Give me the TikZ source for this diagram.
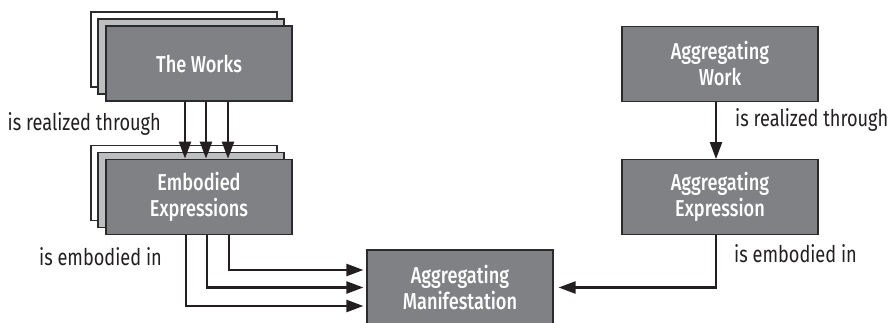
\documentclass[tikz,border=0pt]{standalone}
\usepackage{fontspec}
\setmainfont[FakeStretch=0.79,BoldFont={Fira Sans Medium}]{Fira Sans}
\usetikzlibrary{arrows.meta,positioning,calc,backgrounds}
\definecolor{BoxGray}{HTML}{808184}
\definecolor{BackGray}{HTML}{BCBEC0}
\definecolor{EdgeGray}{HTML}{2B2B2B}
\definecolor{InkBlack}{HTML}{231F20}

\begin{document}
\begin{tikzpicture}[x=1pt,y=-1pt,
  entity/.style={rectangle,draw=EdgeGray,line width=1.2pt,fill=BoxGray,text=white,
                 minimum width=186pt,minimum height=75pt,align=center,
                 font=\fontsize{23}{26}\selectfont\bfseries},
  stackcopy/.style={rectangle,draw=EdgeGray,line width=1.2pt,
                    minimum width=186pt,minimum height=75pt},
  rel/.style={font=\fontsize{23}{26}\selectfont,text=InkBlack,inner sep=0pt},
  arrow/.style={-{Triangle[length=17pt,width=12pt]},line width=2.4pt,draw=InkBlack,shorten >=3pt}
]
\useasboundingbox (0,0) rectangle (895,323);

\node[entity] (works) at (199,63.5) {The Works};
\node[entity,below=57pt of works] (embodied) {Embodied\\Expressions};
\node[entity] (manif) at (460,287.5) {Aggregating\\Manifestation};
\node[entity,minimum width=196pt] (aggwork) at (720,64) {Aggregating\\Work};
\node[entity,minimum width=196pt,below=57pt of aggwork] (aggexpr) {Aggregating\\Expression};

% stacked copies behind the group boxes
\begin{scope}[on background layer]
\node[stackcopy,fill=white]    (works3)    at ($(works)+(-15,-14)$)    {};
\node[stackcopy,fill=BackGray] (works2)    at ($(works)+(-8,-7)$)      {};
\node[stackcopy,fill=white]    (embodied3) at ($(embodied)+(-15,-14)$) {};
\node[stackcopy,fill=BackGray] (embodied2) at ($(embodied)+(-8,-7)$)   {};
\end{scope}

\node[rel,anchor=base east] (realL) at (161,131) {is realized through};
\node[rel,anchor=base east] (embL)  at (162,266) {is embodied in};
\node[rel,anchor=base west] (realR) at (735,127) {is realized through};
\node[rel,anchor=base west] (embR)  at (734,263) {is embodied in};

\foreach \dx in {-14,7,29}
  \draw[arrow,shorten >=0pt] ([xshift=\dx pt]works.south) -- ([xshift=\dx pt]embodied.north);

\draw[arrow] ([xshift=-13pt]embodied.south) |- ([yshift=-18.5pt]manif.west);
\draw[arrow] ([xshift=8pt]embodied.south)   |- (manif.west);
\draw[arrow] ([xshift=30pt]embodied.south)  |- ([yshift=17.5pt]manif.west);

\draw[arrow,shorten >=0pt] ([xshift=-4pt]aggwork.south) -- ([xshift=-4pt]aggexpr.north);
\draw[arrow,shorten >=5pt] ([xshift=-4pt]aggexpr.south) |- (manif.east);
\end{tikzpicture}
\end{document}
